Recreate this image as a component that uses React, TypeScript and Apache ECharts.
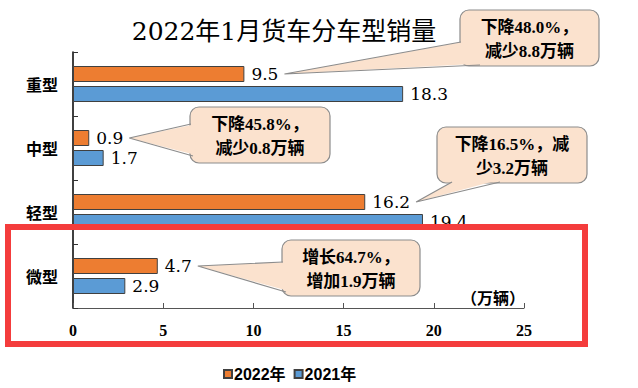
import React, { useEffect, useRef } from "react";
import * as echarts from "echarts";

const categories = ["重型", "中型", "轻型", "微型"];
const seriesNames = ["2022年", "2021年"];
const sales2022 = [9.5, 0.9, 16.2, 4.7];
const sales2021 = [18.3, 1.7, 19.4, 2.9];
const xMax = 25;
const xInterval = 5;
const titleText = "2022年1月货车分车型销量";
const unitText = "（万辆）";
const calloutTexts = [
  "下降48.0%，\n减少8.8万辆",
  "下降45.8%，\n减少0.8万辆",
  "下降16.5%，减\n少3.2万辆",
  "增长64.7%，\n增加1.9万辆",
];

// layout of annotation boxes (pixels) and where the pointer leaves each box
const calloutBoxes = [
  { x: 460, y: 10, w: 139, h: 56, b1: [461, 42], b2: [480, 65] },
  { x: 190, y: 107, w: 140, h: 56, b1: [191, 124], b2: [193, 156] },
  { x: 437, y: 127, w: 150, h: 56, b1: [452, 182], b2: [500, 182] },
  { x: 282, y: 240, w: 138, h: 56, b1: [283, 262], b2: [286, 292] },
];

const ORANGE = "#ED7D31";
const BLUE = "#5B9BD5";
const LABEL_FONT = "'DejaVu Serif', 'Noto Sans CJK SC', serif";
const SERIF_FONT = "'Liberation Serif', 'Noto Sans CJK SC', serif";
const CJK_FONT = "'Noto Sans CJK SC', sans-serif";
const LABEL_SIZE = 17;
const LABEL_DIST = 7;

function measure(text: string, font: string) {
  const c = document.createElement("canvas").getContext("2d");
  if (!c) return text.length * 9;
  c.font = font;
  return c.measureText(text).width;
}

export default function App() {
  const ref = useRef<HTMLDivElement>(null);
  useEffect(() => {
    document.body.style.margin = "0";
    if (!ref.current) return;
    const chart = echarts.init(ref.current, undefined, { renderer: "svg" });
    const labelCfg = {
      show: true,
      position: "right" as const,
      distance: LABEL_DIST,
      fontSize: LABEL_SIZE,
      fontFamily: LABEL_FONT,
      color: "#000",
    };
    chart.setOption({
      animation: false,
      backgroundColor: "#fff",
      title: {
        text: titleText,
        left: 279,
        top: 14,
        textAlign: "center",
        textStyle: {
          fontSize: 25,
          fontWeight: "normal",
          fontFamily: LABEL_FONT,
          color: "#000",
        },
      },
      legend: {
        data: seriesNames,
        left: 218,
        top: 361,
        icon: "rect",
        itemWidth: 8,
        itemHeight: 8,
        itemGap: 8,
        textStyle: {
          fontSize: 16,
          fontWeight: "bold",
          fontFamily: "'Liberation Sans', 'Noto Sans CJK SC', sans-serif",
          color: "#000",
          padding: [0, 0, 0, -3],
        },
      },
      grid: { left: 73, right: 114, top: 52, bottom: 80, containLabel: false },
      xAxis: {
        type: "value",
        min: 0,
        max: xMax,
        interval: xInterval,
        axisLine: { show: true, lineStyle: { color: "#555", width: 1 } },
        axisTick: { show: true, inside: true, length: 5, lineStyle: { color: "#555" } },
        splitLine: { show: false },
        axisLabel: {
          margin: 14,
          fontSize: 16,
          fontWeight: "bold",
          fontFamily: SERIF_FONT,
          color: "#000",
        },
      },
      yAxis: {
        type: "category",
        data: categories,
        inverse: true,
        axisLine: { show: true, lineStyle: { color: "#000", width: 1.5 } },
        axisTick: { show: true, inside: true, length: 5, lineStyle: { color: "#333" } },
        axisLabel: {
          margin: 15,
          fontSize: 16,
          fontWeight: "bold",
          fontFamily: CJK_FONT,
          color: "#000",
        },
      },
      series: [
        {
          name: seriesNames[0],
          type: "bar",
          data: sales2022,
          barWidth: 16,
          barGap: "25%",
          itemStyle: { color: ORANGE, borderColor: "#404040", borderWidth: 1 },
          label: labelCfg,
        },
        {
          name: seriesNames[1],
          type: "bar",
          data: sales2021,
          barWidth: 16,
          barGap: "25%",
          itemStyle: { color: BLUE, borderColor: "#404040", borderWidth: 1 },
          label: labelCfg,
        },
      ],
    });

    // Build callouts anchored to the 2022 bar labels
    const data = (chart as any).getModel().getSeriesByIndex(0).getData();
    const font = `${LABEL_SIZE}px ${LABEL_FONT}`;
    const elements: any[] = [];
    calloutBoxes.forEach((b, i) => {
      const lay = data.getItemLayout(i);
      const endX = lay.x + lay.width;
      const cy = lay.y + lay.height / 2;
      const lw = measure(String(sales2022[i]), font);
      const tip = [endX + LABEL_DIST + lw + 6, cy];
      const cx = b.x + b.w / 2;
      const ccy = b.y + b.h / 2;
      const nudge = (p: number[]) => {
        const dx = cx - p[0];
        const dy = ccy - p[1];
        const d = Math.sqrt(dx * dx + dy * dy) || 1;
        return [p[0] + (dx / d) * 3, p[1] + (dy / d) * 3];
      };
      elements.push({
        type: "rect",
        shape: { x: b.x, y: b.y, width: b.w, height: b.h, r: 9 },
        style: { fill: "#FBE2CE", stroke: "#8C8C8C", lineWidth: 1.2 },
        z: 10,
      });
      elements.push({
        type: "polygon",
        shape: { points: [nudge(b.b1), tip, nudge(b.b2)] },
        style: { fill: "#FBE2CE" },
        z: 11,
      });
      elements.push({
        type: "polyline",
        shape: { points: [b.b1, tip, b.b2] },
        style: { stroke: "#8C8C8C", lineWidth: 1.2, fill: null },
        z: 11,
      });
      elements.push({
        type: "text",
        style: {
          text: calloutTexts[i],
          x: cx,
          y: ccy + 1,
          align: "center",
          verticalAlign: "middle",
          fontSize: 17,
          lineHeight: 24,
          fontWeight: "bold",
          fontFamily: SERIF_FONT,
          fill: "#000",
        },
        z: 12,
      });
    });
    elements.push({
      type: "text",
      style: {
        text: unitText,
        x: 525,
        y: 297,
        align: "right",
        verticalAlign: "middle",
        fontSize: 16,
        fontWeight: "bold",
        fontFamily: CJK_FONT,
        fill: "#000",
      },
      z: 12,
    });
    elements.push({
      type: "rect",
      shape: { x: 8, y: 227, width: 577, height: 117 },
      style: { fill: null, stroke: "#F43C3C", lineWidth: 6 },
      z: 20,
    });
    chart.setOption({ graphic: { elements } });

    return () => chart.dispose();
  }, []);
  return <div ref={ref} style={{ width: 638, height: 388 }} />;
}
